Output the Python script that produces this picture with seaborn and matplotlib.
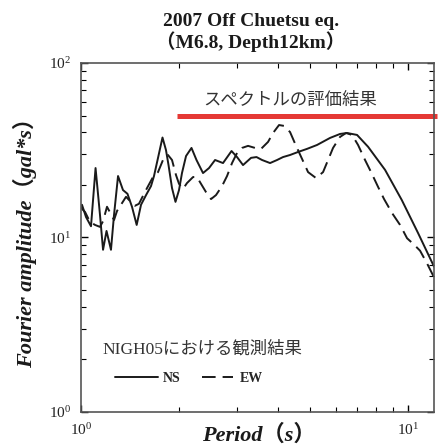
import pandas as pd
import matplotlib
matplotlib.use("Agg")
import matplotlib.pyplot as plt
import seaborn as sns
from matplotlib.ticker import LogLocator, NullFormatter

# NIGH05 観測結果 NS成分（実線）
ns_period = [1.000, 1.007, 1.036, 1.073, 1.108, 1.143, 1.168, 1.197, 1.235, 1.262,
             1.298, 1.344, 1.387, 1.432, 1.480, 1.526, 1.581, 1.637, 1.672, 1.720,
             1.775, 1.819, 1.852, 1.898, 1.945, 1.994, 2.036, 2.095, 2.177, 2.255,
             2.361, 2.463, 2.570, 2.718, 2.886, 3.000, 3.129, 3.311, 3.441, 3.578,
             3.785, 3.976, 4.147, 4.357, 4.609, 4.911, 5.269, 5.774, 6.195, 6.506,
             6.983, 7.546, 8.505, 9.566, 10.73, 12.01]
ns_amp = [14.8, 15.4, 13.1, 11.6, 25.0, 13.5, 8.5, 10.9, 8.5, 13.5,
          22.5, 18.7, 17.8, 15.0, 11.8, 15.4, 17.5, 19.7, 22.5, 28.6,
          37.4, 31.7, 26.0, 19.2, 16.0, 18.7, 23.4, 29.3, 32.6, 27.8,
          23.4, 25.0, 27.8, 26.7, 31.3, 28.9, 26.0, 28.6, 28.9, 27.8,
          26.7, 27.8, 28.9, 29.7, 30.9, 32.2, 33.9, 37.2, 39.2, 39.7,
          38.7, 33.1, 24.4, 16.4, 10.6, 6.8]

# NIGH05 観測結果 EW成分（破線）
ew_period = [1.000, 1.029, 1.065, 1.104, 1.143, 1.168, 1.201, 1.235, 1.262, 1.289,
             1.325, 1.373, 1.412, 1.463, 1.504, 1.547, 1.592, 1.660, 1.720, 1.781,
             1.845, 1.898, 1.952, 1.994, 2.051, 2.109, 2.201, 2.263, 2.328, 2.411,
             2.498, 2.587, 2.699, 2.796, 2.896, 3.000, 3.107, 3.242, 3.405, 3.553,
             3.732, 3.865, 4.032, 4.176, 4.357, 4.545, 4.741, 4.946, 5.232, 5.497,
             5.694, 5.897, 6.195, 6.462, 6.741, 7.032, 7.387, 7.707, 8.096, 8.446,
             8.935, 9.452, 9.930, 10.43, 10.88, 11.43, 12.01]
ew_amp = [14.8, 14.0, 12.3, 11.8, 11.5, 12.4, 15.0, 13.6, 12.6, 14.2,
          15.4, 17.1, 16.2, 15.2, 15.6, 17.3, 19.2, 22.2, 23.7, 27.8,
          29.7, 27.8, 22.8, 20.3, 19.0, 20.5, 22.2, 22.2, 20.3, 18.2,
          16.6, 17.5, 19.7, 22.5, 26.7, 30.5, 32.6, 33.5, 32.6, 32.2,
          35.3, 39.7, 44.1, 43.6, 40.2, 33.5, 28.2, 23.7, 21.9, 23.7,
          27.8, 32.6, 37.7, 39.7, 38.7, 33.9, 27.8, 23.7, 19.5, 16.6,
          13.8, 11.8, 9.9, 9.1, 8.4, 7.1, 5.9]

# スペクトルの評価結果（赤線）
eval_period = [1.96, 12.27]
eval_amp = [49.4, 49.4]

sns.set_theme(style="ticks")
plt.rcParams["font.family"] = ["Liberation Serif", "Noto Sans CJK JP"]
plt.rcParams["mathtext.fontset"] = "custom"
plt.rcParams["mathtext.rm"] = "Liberation Serif"
plt.rcParams["axes.unicode_minus"] = False

fig = plt.figure(figsize=(4.44, 4.48), dpi=100)
ax = fig.add_axes([0.1824, 0.0804, 0.795, 0.779])

ns = pd.DataFrame({"period": ns_period, "amp": ns_amp})
ew = pd.DataFrame({"period": ew_period, "amp": ew_amp})
ev = pd.DataFrame({"period": eval_period, "amp": eval_amp})

sns.lineplot(data=ns, x="period", y="amp", ax=ax, color="#1a1a1a", lw=1.4,
             estimator=None, legend=False)
sns.lineplot(data=ew, x="period", y="amp", ax=ax, color="#1a1a1a", lw=1.4,
             estimator=None, legend=False, linestyle=(0, (7, 3.6)))
sns.lineplot(data=ev, x="period", y="amp", ax=ax, color="#e53935", lw=3.6,
             estimator=None, legend=False)
ns_line, ew_line, ev_line = ax.lines[0], ax.lines[1], ax.lines[2]
ev_line.set_clip_on(False)
ev_line.set_solid_capstyle("butt")

ax.set_xscale("log")
ax.set_yscale("log")
ax.set_xlim(1, 12.0)
ax.set_ylim(1, 100)
ax.xaxis.set_major_locator(LogLocator(base=10, numticks=10))
ax.yaxis.set_major_locator(LogLocator(base=10, numticks=10))
ax.xaxis.set_minor_locator(LogLocator(base=10, subs=range(2, 10), numticks=20))
ax.yaxis.set_minor_locator(LogLocator(base=10, subs=range(2, 10), numticks=20))
ax.xaxis.set_minor_formatter(NullFormatter())
ax.yaxis.set_minor_formatter(NullFormatter())

ax.tick_params(which="both", direction="in", top=True, right=True, colors="black",
               labelsize=11, labelcolor="#222222")
ax.tick_params(which="major", length=5, width=1.0, pad=7)
ax.tick_params(which="minor", length=3.5, width=0.8)
for s in ax.spines.values():
    s.set_color("#555555")
    s.set_linewidth(1.2)

ax.set_xlabel("Period（s）", fontsize=16, fontweight="bold", fontstyle="italic",
              color="#1a1a1a")
ax.set_ylabel("Fourier amplitude（gal*s）", fontsize=16, fontweight="bold",
              fontstyle="italic", color="#1a1a1a")
ax.xaxis.label.set_va("center")
ax.yaxis.label.set_va("center")
ax.xaxis.set_label_coords(0.503, -0.066)
ax.yaxis.set_label_coords(-0.159, 0.5)

fig.text(0.565, 0.951, "2007 Off Chuetsu eq.", ha="center", va="center",
         fontsize=14, fontweight="bold", color="#1a1a1a")
fig.text(0.565, 0.908, "（M6.8, Depth12km）", ha="center", va="center",
         fontsize=14, fontweight="bold", color="#1a1a1a")

ax.text(0.593, 0.891, "スペクトルの評価結果", transform=ax.transAxes,
        ha="center", va="center", fontsize=12.5, color="#333333")
ax.text(0.0595, 0.178, "NIGH05における観測結果", transform=ax.transAxes,
        ha="left", va="center", fontsize=12.5, color="#333333")

leg1 = ax.legend(handles=[ns_line], labels=["NS"], loc="center left",
                 bbox_to_anchor=(0.096, 0.097), frameon=False, borderpad=0,
                 borderaxespad=0, handlelength=3.1, handletextpad=0.36,
                 prop={"weight": "bold", "size": 10})
ax.add_artist(leg1)
ax.legend(handles=[ew_line], labels=["EW"], loc="center left",
          bbox_to_anchor=(0.343, 0.097), frameon=False, borderpad=0,
          borderaxespad=0, handlelength=2.25, handletextpad=0.45,
          prop={"weight": "bold", "size": 10})

fig.savefig("out.png", dpi=100)
